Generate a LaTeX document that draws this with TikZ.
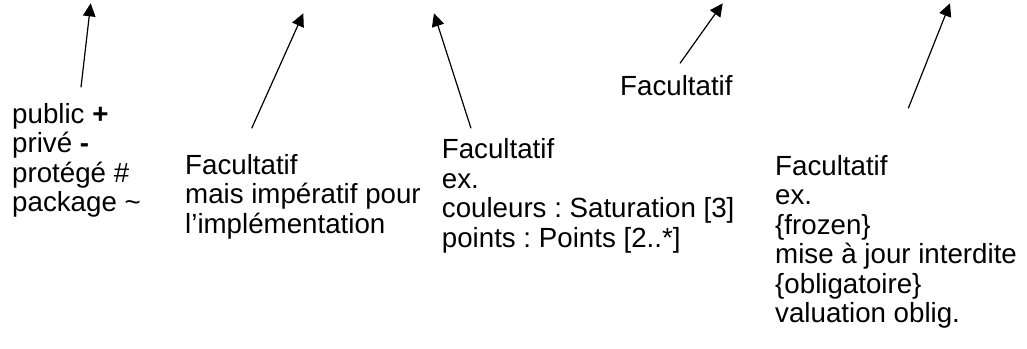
\documentclass[tikz,border=0pt]{standalone}
\usepackage{fontspec}
\setmainfont{Liberation Sans}
\usetikzlibrary{arrows.meta}
\frenchspacing
\begin{document}
\begin{tikzpicture}[x=1pt,y=-1pt,
  lbl/.style={anchor=base west,inner sep=0pt,align=left,
    font=\fontsize{27.7}{29.5}\selectfont},
  pointer/.style={line width=1.2pt,-{Triangle[length=13pt,width=12.5pt]}}]
\useasboundingbox (0,0) rectangle (1027,348);
\node[lbl] (vis) at (12,211.7) {public \textbf{+}\\privé \textbf{-}\\protégé \#\\package \textasciitilde};
\node[lbl] (typ) at (185,233) {Facultatif\\mais impératif pour\\l’implémentation};
\node[lbl] (mul) at (441.7,247) {Facultatif\\ex.\\couleurs : Saturation [3]\\points : Points [2..*]};
\node[lbl] (ini) at (620,95) {Facultatif};
\node[lbl] (prop) at (775,322.5) {Facultatif\\ex.\\\{frozen\}\\mise à jour interdite\\\{obligatoire\}\\valuation oblig.};
\coordinate (s1) at (81,87.3);
\coordinate (e1) at (90.7,3.3);
\coordinate (s2) at (251.7,128.3);
\coordinate (e2) at (303.3,13.3);
\coordinate (s3) at (471,128.3);
\coordinate (e3) at (434,13.3);
\coordinate (s4) at (680,63.3);
\coordinate (e4) at (722.7,3.3);
\coordinate (s5) at (908.3,108.3);
\coordinate (e5) at (950,3.3);
\draw[pointer] (s1) -- (e1);
\draw[pointer] (s2) -- (e2);
\draw[pointer] (s3) -- (e3);
\draw[pointer] (s4) -- (e4);
\draw[pointer] (s5) -- (e5);
\end{tikzpicture}
\end{document}
